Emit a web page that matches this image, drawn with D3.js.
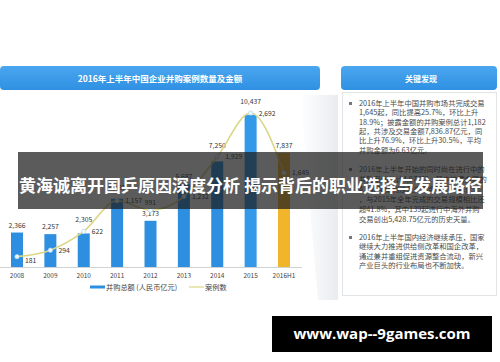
<!DOCTYPE html>
<html>
<head>
<meta charset="utf-8">
<script src="https://cdn.jsdelivr.net/npm/d3@7/dist/d3.min.js"></script>
<style>
  html, body { margin: 0; padding: 0; background: #fff; }
  svg { display: block; font-family: "Noto Sans CJK SC", "Noto Sans", sans-serif; }
</style>
</head>
<body>
<div id="chart"></div>
<script>
// chart data
const years = ['2008', '2009', '2010', '2011', '2012', '2013', '2014', '2015', '2016H1'];
const amounts = [2366, 2257, 2305, 4687, 3173, 5687, 7250, 10437, 7837];   // 并购总额 (人民币亿元)
const cases = [181, 294, 622, 1157, 991, 1232, 1929, 2692, 1645];          // 案例数
const chartTitle = '2016年上半年中国企业并购案例数量及金额';
const legendLabels = ['并购总额 (人民币亿元)', '案例数'];
const panelTitle = '关键发现';
const findings = [
  ['2016年上半年中国并购市场共完成交易', '1,645起，同比提高25.7%，环比上升',
   '18.9%；披露金额的并购案例总计1,182', '起，共涉及交易金额7,836.87亿元，同',
   '比上升76.9%，环比上升30.5%，平均', '并购金额为6.63亿元。'],
  ['2016年上半年开始的同时尚在进行中的', '并购案例共计4,977起，其中披露金额的',
   '4,040起案例涉及交易金额13,141亿元', '，与2015年全年完成的交易规模相比还',
   '超41.8%，其中139起进行中海外并购', '交易创出5,428.75亿元的历史天量。'],
  ['2016年上半年国内经济继续承压，国家', '继续大力推进供给侧改革和国企改革，',
   '通过兼并重组促进资源整合流动，新兴', '产业巨头的行业布局也不断加快。']
];
const overlayTitle = '黄海诚离开国乒原因深度分析 揭示背后的职业选择与发展路径';
const watermark = 'www.wap--9games.com';

const W = 500, H = 362;
const svg = d3.select('#chart').append('svg').attr('width', W).attr('height', H);

const defs = svg.append('defs');
const hg = defs.append('linearGradient').attr('id', 'hdr').attr('x1', 0).attr('y1', 0).attr('x2', 0).attr('y2', 1);
hg.append('stop').attr('offset', '0%').attr('stop-color', '#4aa6ef');
hg.append('stop').attr('offset', '100%').attr('stop-color', '#2f90e3');
const sg = defs.append('linearGradient').attr('id', 'shade').attr('x1', 0).attr('y1', 0).attr('x2', 1).attr('y2', 0);
sg.append('stop').attr('offset', '0%').attr('stop-color', '#ffffff');
sg.append('stop').attr('offset', '100%').attr('stop-color', '#e9ecef');

// soft grey shading between panels
svg.append('path')
  .attr('d', 'M300,95 L338,95 L338,300 L318,300 Z')
  .attr('fill', 'url(#shade)');

// header bars
svg.append('rect').attr('x', 0).attr('y', 66).attr('width', 320).attr('height', 24).attr('rx', 4)
  .attr('fill', 'url(#hdr)');
svg.append('text').attr('x', 160).attr('y', 81.5).attr('text-anchor', 'middle')
  .attr('fill', '#fff').attr('font-size', 8.5).attr('font-weight', 'bold').text(chartTitle);

svg.append('rect').attr('x', 341).attr('y', 66).attr('width', 156).attr('height', 24).attr('rx', 4)
  .attr('fill', 'url(#hdr)');
svg.append('text').attr('x', 421).attr('y', 81.5).attr('text-anchor', 'middle')
  .attr('fill', '#fff').attr('font-size', 8).attr('font-weight', 'bold').text(panelTitle);

// right panel
svg.append('rect').attr('x', 342.5).attr('y', 92.5).attr('width', 154).attr('height', 203)
  .attr('fill', '#fff').attr('stroke', '#e2e4e6');

const panel = svg.append('g').attr('fill', '#4a4a4a').attr('font-size', 7.3);
const blockTop = [106, 172, 240];
const lineGap = [9.3, 10, 9.4];
findings.forEach((lines, b) => {
  panel.append('rect').attr('x', 349).attr('y', blockTop[b] - 4).attr('width', 3).attr('height', 3).attr('fill', '#777');
  lines.forEach((t, i) => {
    panel.append('text').attr('x', 359).attr('y', blockTop[b] + i * lineGap[b]).text(t);
  });
});

// chart
const baseY = 267;
const x = d3.scalePoint().domain(years).range([17, 284]);
const yAmt = d3.scaleLinear().domain([0, 10437]).range([baseY, 115]);
const yCase = d3.scaleLinear().domain([0, 2692]).range([baseY, 113]);
const barW = 12;
const fmt = d3.format(',');

const chart = svg.append('g');

chart.append('line').attr('x1', 0).attr('x2', 302).attr('y1', baseY + 0.5).attr('y2', baseY + 0.5)
  .attr('stroke', '#cfd3d6');

chart.selectAll('rect.bar').data(amounts).enter().append('rect')
  .attr('class', 'bar')
  .attr('x', (d, i) => x(years[i]) - barW / 2)
  .attr('y', d => yAmt(d))
  .attr('width', barW)
  .attr('height', d => baseY - yAmt(d))
  .attr('fill', (d, i) => years[i] === '2016H1' ? '#f1b52c' : (years[i] === '2015' ? '#3399e8' : '#2e8fe0'));

// amount labels sit above the bar, or above the line where it crosses the bar top
chart.selectAll('text.amt').data(amounts).enter().append('text')
  .attr('class', 'amt')
  .attr('x', (d, i) => x(years[i]))
  .attr('y', (d, i) => {
    const top = yAmt(d), lp = yCase(cases[i]);
    return (Math.abs(lp - top) < 8 ? Math.min(top, lp) - 9 : top - 5);
  })
  .attr('text-anchor', 'middle')
  .attr('font-size', 6.8).attr('fill', '#333')
  .text(d => fmt(d));

const line = d3.line().x((d, i) => x(years[i])).y(d => yCase(d)).curve(d3.curveMonotoneX);
chart.append('path').datum(cases).attr('d', line)
  .attr('fill', 'none').attr('stroke', '#dcd585').attr('stroke-width', 1.6);

chart.selectAll('circle').data(cases).enter().append('circle')
  .attr('cx', (d, i) => x(years[i]))
  .attr('cy', d => yCase(d))
  .attr('r', 2.2)
  .attr('fill', '#eef7fd').attr('stroke', '#a9d3f3').attr('stroke-width', 0.6);

// count labels: right of the point, above it at a local dip
const isDip = i => i > 0 && i < cases.length - 1 && cases[i] < cases[i - 1] && cases[i] < cases[i + 1];
chart.selectAll('text.cnt').data(cases).enter().append('text')
  .attr('class', 'cnt')
  .attr('x', (d, i) => isDip(i) ? x(years[i]) : x(years[i]) + 8)
  .attr('y', (d, i) => isDip(i) ? yCase(d) - 5 : yCase(d) + (i === 0 ? 6 : 2.5))
  .attr('text-anchor', (d, i) => isDip(i) ? 'middle' : 'start')
  .attr('font-size', 6.8).attr('fill', '#333')
  .text(d => fmt(d));

// x axis labels
chart.selectAll('text.yr').data(years).enter().append('text')
  .attr('class', 'yr')
  .attr('x', d => x(d)).attr('y', 278)
  .attr('text-anchor', 'middle').attr('font-size', 6.5).attr('fill', '#444')
  .text(d => d);

// legend
const lg = chart.append('g').attr('font-size', 7.2).attr('fill', '#444');
lg.append('rect').attr('x', 90).attr('y', 285.5).attr('width', 15).attr('height', 3).attr('fill', '#2e8fe0');
lg.append('text').attr('x', 106).attr('y', 289.5).text(legendLabels[0]);
lg.append('line').attr('x1', 189).attr('x2', 204).attr('y1', 287).attr('y2', 287)
  .attr('stroke', '#dcd585').attr('stroke-width', 1.2);
lg.append('text').attr('x', 205).attr('y', 289.5).text(legendLabels[1]);

// overlay band with headline
svg.append('rect').attr('x', 18).attr('y', 152).attr('width', 465).attr('height', 57)
  .attr('fill', 'rgba(28,28,28,0.72)');
svg.append('text').attr('x', 250.5).attr('y', 191.5).attr('text-anchor', 'middle')
  .attr('fill', '#fff').attr('font-size', 17).attr('font-weight', 'bold').text(overlayTitle);

// watermark
svg.append('rect').attr('x', 272).attr('y', 316).attr('width', 220).attr('height', 36).attr('fill', '#000');
svg.append('text').attr('x', 382).attr('y', 339).attr('text-anchor', 'middle')
  .attr('fill', '#fff').attr('font-size', 15).attr('font-weight', 'bold')
  .attr('font-family', '"Open Sans", "DejaVu Sans", sans-serif').text(watermark);
</script>
</body>
</html>
